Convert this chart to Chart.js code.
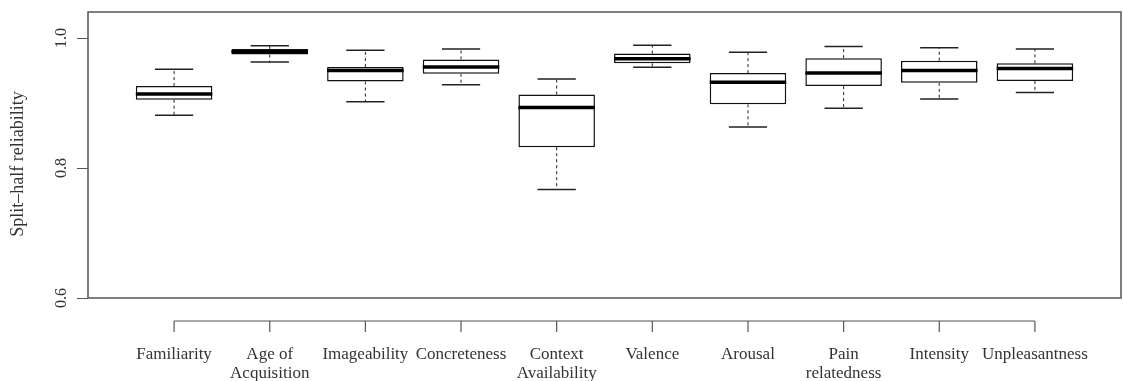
<!DOCTYPE html>
<html>
<head>
<meta charset="utf-8">
<script src="https://cdn.jsdelivr.net/npm/chart.js@4/dist/chart.umd.min.js"></script>
<style>
  html, body { margin: 0; padding: 0; background: #fff; }
  #wrap { width: 1123px; height: 381px; }
</style>
</head>
<body>
<div id="wrap"><canvas id="boxChart"></canvas></div>
<script>
// split-half reliability per variable
var labels = ['Familiarity', ['Age of', 'Acquisition'], 'Imageability', 'Concreteness',
  ['Context', 'Availability'], 'Valence', 'Arousal', ['Pain', 'relatedness'], 'Intensity', 'Unpleasantness'];
var whiskerLow  = [0.881, 0.963, 0.902, 0.928, 0.767, 0.955, 0.863, 0.892, 0.906, 0.916];
var q1          = [0.905, 0.9745, 0.933, 0.945, 0.832, 0.961, 0.898, 0.926, 0.931, 0.934];
var median      = [0.914, 0.979, 0.950, 0.9555, 0.893, 0.968, 0.932, 0.946, 0.950, 0.953];
var q3          = [0.926, 0.983, 0.9555, 0.967, 0.913, 0.976, 0.946, 0.969, 0.965, 0.961];
var whiskerHigh = [0.952, 0.988, 0.981, 0.983, 0.937, 0.989, 0.978, 0.987, 0.985, 0.983];
var yTicks = [0.6, 0.8, 1.0];

var FONT = 'Liberation Serif';
var TEXT = '#333';

;(function(){
    var boxes = labels.map(function(l, i){
        return {x: i + 1, y: [q1[i], q3[i]]};
    });

    // medians, whiskers, caps, frame and axes the R way
    var rBox = {
        id: 'rBox',
        afterDatasetsDraw: function(chart){
            var ctx = chart.ctx;
            var y = chart.scales.y;
            var bars = chart.getDatasetMeta(0).data;
            ctx.save();
            bars.forEach(function(bar, i){
                var half = bar.width / 2;
                var cx = bar.x;
                // dashed whiskers
                ctx.strokeStyle = '#222';
                ctx.lineWidth = 1;
                ctx.setLineDash([3, 3]);
                ctx.beginPath();
                ctx.moveTo(cx, y.getPixelForValue(q3[i]));
                ctx.lineTo(cx, y.getPixelForValue(whiskerHigh[i]));
                ctx.moveTo(cx, y.getPixelForValue(q1[i]));
                ctx.lineTo(cx, y.getPixelForValue(whiskerLow[i]));
                ctx.stroke();
                ctx.setLineDash([]);
                // caps
                ctx.lineWidth = 1.5;
                ctx.beginPath();
                ctx.moveTo(cx - half / 2, y.getPixelForValue(whiskerHigh[i]));
                ctx.lineTo(cx + half / 2, y.getPixelForValue(whiskerHigh[i]));
                ctx.moveTo(cx - half / 2, y.getPixelForValue(whiskerLow[i]));
                ctx.lineTo(cx + half / 2, y.getPixelForValue(whiskerLow[i]));
                ctx.stroke();
                // median
                ctx.strokeStyle = '#000';
                ctx.lineWidth = 3.5;
                ctx.beginPath();
                ctx.moveTo(cx - half, y.getPixelForValue(median[i]));
                ctx.lineTo(cx + half, y.getPixelForValue(median[i]));
                ctx.stroke();
            });
            ctx.restore();
        },
        afterDraw: function(chart){
            var ctx = chart.ctx;
            var a = chart.chartArea;
            var x = chart.scales.x;
            var y = chart.scales.y;
            ctx.save();
            // plot frame
            ctx.strokeStyle = '#555';
            ctx.lineWidth = 1.5;
            ctx.strokeRect(a.left, a.top, a.right - a.left, a.bottom - a.top);
            // category axis, detached below the frame
            var ay = a.bottom + 23;
            ctx.lineWidth = 1.2;
            ctx.beginPath();
            ctx.moveTo(x.getPixelForValue(1), ay);
            ctx.lineTo(x.getPixelForValue(labels.length), ay);
            labels.forEach(function(l, i){
                var px = x.getPixelForValue(i + 1);
                ctx.moveTo(px, ay);
                ctx.lineTo(px, ay + 11);
            });
            ctx.stroke();
            // rotated y tick labels
            ctx.fillStyle = TEXT;
            ctx.font = '16px "' + FONT + '"';
            ctx.textAlign = 'center';
            ctx.textBaseline = 'middle';
            yTicks.forEach(function(v){
                ctx.save();
                ctx.translate(62, y.getPixelForValue(v));
                ctx.rotate(-Math.PI / 2);
                ctx.fillText(v.toFixed(1), 0, 0);
                ctx.restore();
            });
            // y title
            ctx.font = '18px "' + FONT + '"';
            ctx.save();
            ctx.translate(18, 164);
            ctx.rotate(-Math.PI / 2);
            ctx.fillText('Split\u2013half reliability', 0, 0);
            ctx.restore();
            ctx.restore();
        }
    };

    new Chart(document.getElementById('boxChart'), {
        type: 'bar',
        data: {
            datasets: [{
                data: boxes,
                backgroundColor: '#fff',
                borderColor: '#111',
                borderWidth: 1.5,
                borderSkipped: false,
                categoryPercentage: 1,
                barPercentage: 0.8
            }]
        },
        options: {
            responsive: true,
            maintainAspectRatio: false,
            animation: false,
            layout: { padding: { top: 12, right: 2, left: 0, bottom: 0 } },
            plugins: { legend: { display: false }, tooltip: { enabled: false } },
            scales: {
                x: {
                    type: 'linear',
                    offset: false,
                    min: 0.1,
                    max: 10.9,
                    afterBuildTicks: function(s){
                        s.ticks = labels.map(function(l, i){ return {value: i + 1}; });
                    },
                    afterFit: function(s){
                        s.height = 83;
                        s.paddingLeft = 0;
                        s.paddingRight = 0;
                    },
                    grid: { display: false, drawTicks: false, offset: false },
                    border: { display: false },
                    ticks: {
                        autoSkip: false,
                        maxRotation: 0,
                        minRotation: 0,
                        padding: 47,
                        color: TEXT,
                        font: { family: FONT, size: 17, lineHeight: 1.1 },
                        callback: function(v){ return labels[v - 1]; }
                    }
                },
                y: {
                    min: 0.6,
                    max: 1.04,
                    afterBuildTicks: function(s){
                        s.ticks = yTicks.map(function(v){ return {value: v}; });
                    },
                    afterFit: function(s){ s.width = 88; },
                    grid: { drawOnChartArea: false, drawTicks: true, tickLength: 11, color: '#555', lineWidth: 1 },
                    border: { display: false },
                    ticks: { display: false }
                }
            }
        },
        plugins: [rBox]
    });
})();
</script>
</body>
</html>
